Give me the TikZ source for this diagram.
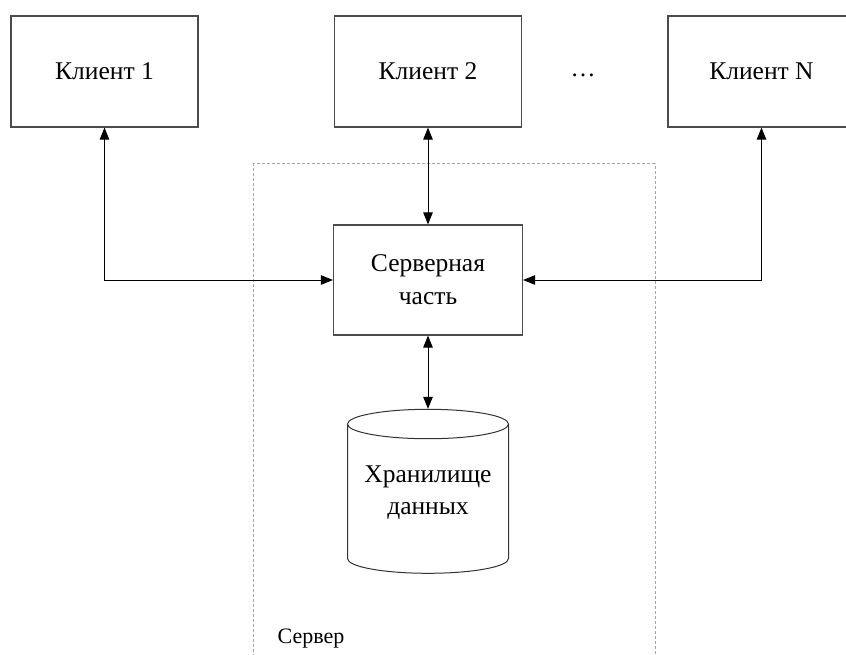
\documentclass[tikz,border=0pt]{standalone}
\usepackage{fontspec}
\setmainfont{Liberation Serif}
\usetikzlibrary{shapes.geometric,arrows.meta}
\begin{document}
\begin{tikzpicture}[x=1pt, y=-1pt,
  blockbox/.style={draw=black!70, line width=1.2pt, minimum width=187pt, minimum height=111pt, align=center, font=\rmfamily\fontsize{25.5}{33}\selectfont},
  storebox/.style={cylinder, shape border rotate=90, aspect=0.22, draw=black!80, line width=1pt, minimum width=161pt, minimum height=164pt, align=center, font=\rmfamily\fontsize{25.5}{32}\selectfont},
  serverframe/.style={draw=black!35, line width=0.7pt, dash pattern=on 3pt off 2pt},
  link/.style={line width=1pt, {Triangle[length=12pt,width=9.5pt]}-{Triangle[length=12pt,width=9.5pt]}}
]
\useasboundingbox (0,0) rectangle (846,655);
\clip (0,0) rectangle (846,655);
\node[blockbox] (client1) at (104.5,71.5) {Клиент 1};
\node[blockbox] (client2) at (428,71.5) {Клиент 2};
\node[blockbox] (clientN) at (761.5,71.5) {Клиент N};
\node[font=\rmfamily\fontsize{25}{32}\selectfont] (dots) at (583,75) {…};
\draw[serverframe] (253,163.5) rectangle (655,680);
\node[blockbox, minimum width=189pt, minimum height=110pt] (backend) at (428,280) {Серверная\\часть};
\node[storebox] (storage) at (428,501) {Хранилище\\данных\rule[-21pt]{0pt}{1pt}};
\node[font=\rmfamily\fontsize{22}{26}\selectfont] (serverlabel) at (311,639) {Сервер};
\draw[link] (client1.south) |- (backend.west);
\draw[link] (client2.south) -- (backend.north);
\draw[link] (clientN.south) |- (backend.east);
\draw[link] (backend.south) -- (storage.north);
\end{tikzpicture}
\end{document}
